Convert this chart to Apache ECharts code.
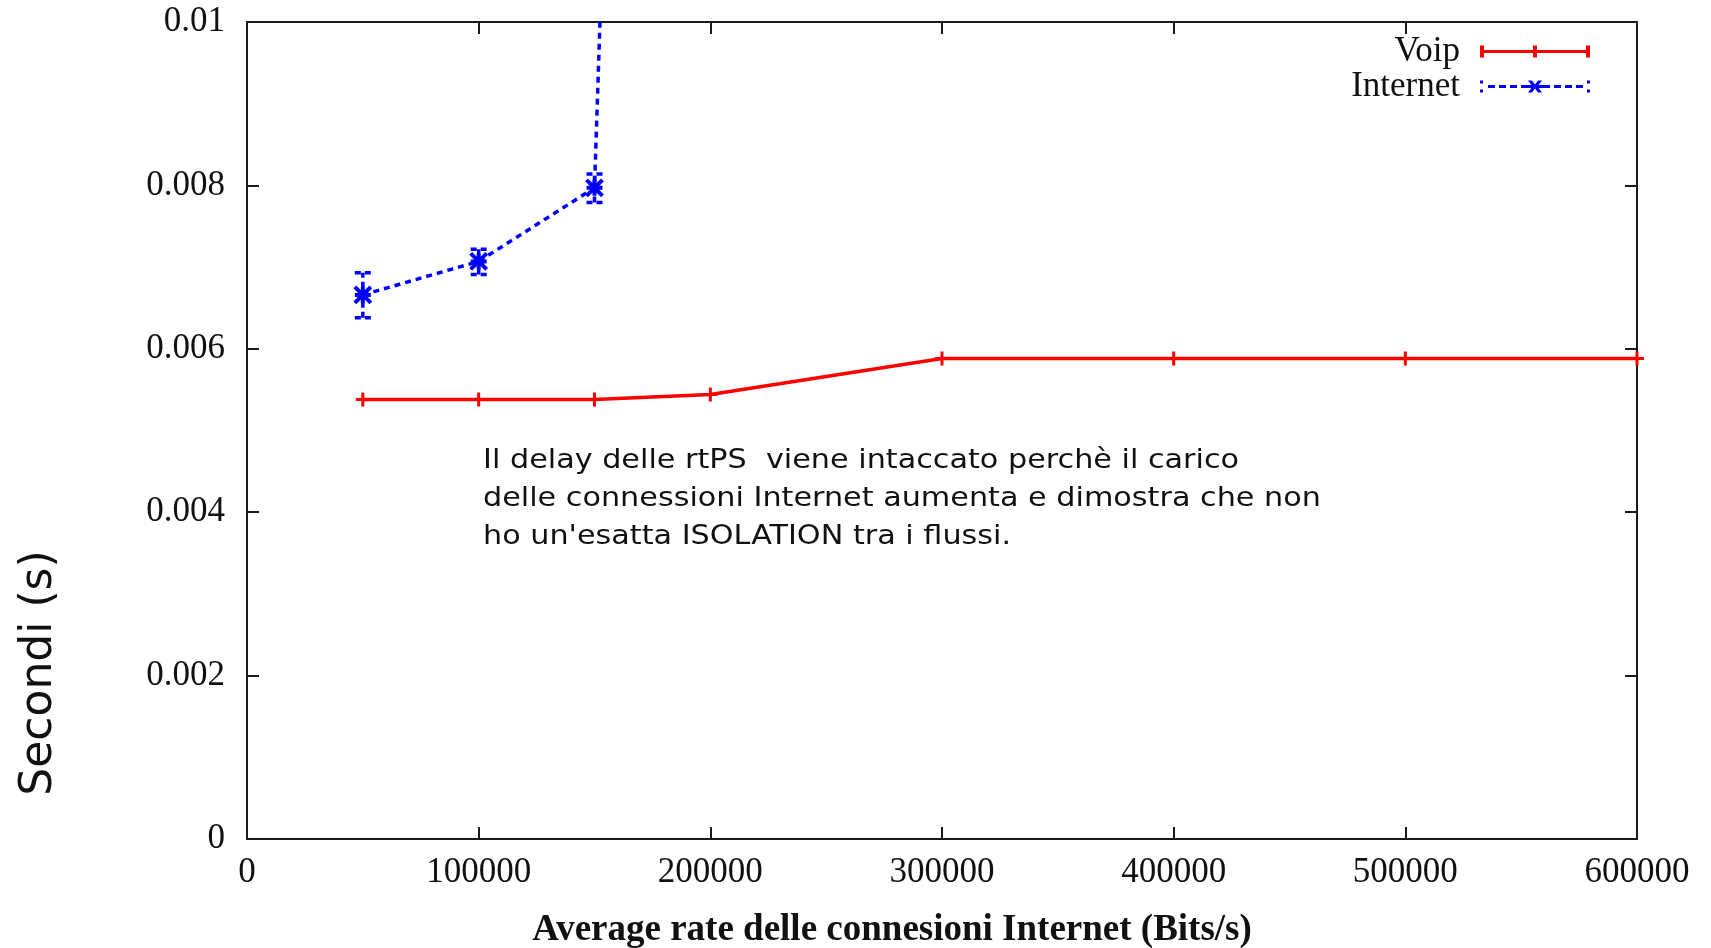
<!DOCTYPE html>
<html><head><meta charset="utf-8">
<script src="https://cdn.jsdelivr.net/npm/echarts@6/dist/echarts.min.js"></script>
<style>html,body{margin:0;padding:0;background:#fff}#c{width:1711px;height:948px}</style>
</head><body><div id="c"></div>
<script>
// ---- data ----
const voipX = [50000, 100000, 150000, 200000, 300000, 400000, 500000, 600000];
const voipY = [0.00538, 0.00538, 0.00538, 0.00544, 0.00588, 0.00588, 0.00588, 0.00588];
const internetX = [50000, 100000, 150000, 200000];
const internetY = [0.00666, 0.00707, 0.00797, 0.0508];
const internetLow = [0.00638, 0.00691, 0.00779, 0.0504];
const internetHigh = [0.00693, 0.00722, 0.00814, 0.0512];
const xTitle = 'Average rate delle connesioni Internet (Bits/s)';
const yTitle = 'Secondi (s)';
const noteLines = [
  "Il delay delle rtPS  viene intaccato perchè il carico",
  "delle connessioni Internet aumenta e dimostra che non",
  "ho un'esatta ISOLATION tra i flussi."
];

const RED = '#ff0000', BLUE = '#0000ff', AX = '#1a1a1a';
const serif = 'Liberation Serif';

const voipData = voipX.map((x, i) => [x, voipY[i]]);
const netData = internetX.map((x, i) => [x, internetY[i]]);
const errData = internetX.map((x, i) => [x, internetLow[i], internetHigh[i]]);

const plusPath = 'path://M0,5 L10,5 M5,0 L5,10';
const starPath = 'path://M0,0 L10,10 M10,0 L0,10 M5,0 L5,10 M0,5 L10,5';

// legend icons (filled shapes, 110x12)
const voipIcon = 'path://M0,0h4v12h-4Z M53,0h4v12h-4Z M106,0h4v12h-4Z M0,4.5h110v3h-110Z';
let netIconParts = ['M0,0h3v3h-3Z', 'M0,9h3v3h-3Z', 'M107,0h3v3h-3Z', 'M107,9h3v3h-3Z'];
for (let x = 8; x < 104; x += 11) {
  if (x > 44 && x < 62) continue;
  netIconParts.push('M' + x + ',4.5h7v3h-7Z');
}
netIconParts.push('M48,0L52,0L55,4L58,0L62,0L57.5,6L62,12L58,12L55,8L52,12L48,12L52.5,6Z');
netIconParts.push('M44,4.5h22v3h-22Z');
const netIcon = 'path://' + netIconParts.join(' ');

const chart = echarts.init(document.getElementById('c'));
const axisCommon = {
  min: 0,
  axisLine: { show: true, onZero: false, lineStyle: { color: AX, width: 2 } },
  axisTick: { show: true, inside: true, length: 12, lineStyle: { color: AX, width: 2 } },
  splitLine: { show: false }
};
const lbl = { fontFamily: serif, fontSize: 35, color: '#111' };
chart.setOption({
  backgroundColor: '#ffffff',
  animation: false,
  grid: { left: 247, right: 74, top: 22, bottom: 109, containLabel: false },
  xAxis: [
    Object.assign({}, axisCommon, {
      type: 'value', position: 'bottom', max: 600000, interval: 100000,
      axisLabel: Object.assign({}, lbl, { margin: 16, formatter: v => String(v) })
    }),
    Object.assign({}, axisCommon, {
      type: 'value', position: 'top', max: 600000, interval: 100000,
      axisLabel: { show: false }
    })
  ],
  yAxis: [
    Object.assign({}, axisCommon, {
      type: 'value', position: 'left', max: 0.01, interval: 0.002,
      axisLabel: Object.assign({}, lbl, { margin: 22 })
    }),
    Object.assign({}, axisCommon, {
      type: 'value', position: 'right', max: 0.01, interval: 0.002,
      axisLabel: { show: false }
    })
  ],
  legend: {
    orient: 'vertical', right: 116, top: 29, align: 'right',
    itemWidth: 110, itemHeight: 12, itemGap: 0,
    itemStyle: { borderWidth: 0 },
    textStyle: { fontFamily: serif, fontSize: 35, color: '#111', lineHeight: 32, padding: [0, 15, 0, 0] },
    data: [{ name: 'Voip', icon: voipIcon }, { name: 'Internet', icon: netIcon }]
  },
  series: [
    {
      name: 'Voip', type: 'line', data: voipData, clip: true,
      symbol: plusPath, symbolSize: 14,
      itemStyle: { color: RED, borderColor: RED, borderWidth: 3 },
      lineStyle: { color: RED, width: 3.5 }
    },
    {
      name: 'Internet', type: 'line', data: netData, clip: true,
      symbol: starPath, symbolSize: 16,
      itemStyle: { color: BLUE, borderColor: BLUE, borderWidth: 4 },
      lineStyle: { color: BLUE, width: 3.5, type: [6, 5] }
    },
    {
      name: 'InternetErr', type: 'custom', data: errData, clip: true,
      renderItem: function (params, api) {
        const x = api.value(0), lo = api.value(1), hi = api.value(2);
        const pLo = api.coord([x, lo]), pHi = api.coord([x, hi]);
        const w = 8;
        const st = { stroke: BLUE, lineWidth: 3.5, lineDash: [6, 4], fill: null };
        return {
          type: 'group', children: [
            { type: 'line', shape: { x1: pLo[0], y1: pLo[1], x2: pHi[0], y2: pHi[1] }, style: st },
            { type: 'line', shape: { x1: pHi[0] - w, y1: pHi[1], x2: pHi[0] + w, y2: pHi[1] }, style: st },
            { type: 'line', shape: { x1: pLo[0] - w, y1: pLo[1], x2: pLo[0] + w, y2: pLo[1] }, style: st }
          ]
        };
      },
      z: 3
    }
  ],
  graphic: [
    {
      type: 'text', x: 892, y: 930,
      style: { text: xTitle, fontFamily: serif, fontWeight: 'bold', fontSize: 37, fill: '#111', align: 'center', verticalAlign: 'middle' }
    },
    {
      type: 'text', x: 40, y: 673, rotation: Math.PI / 2,
      style: { text: yTitle, fontFamily: 'DejaVu Sans', fontSize: 44, fill: '#111', align: 'center', verticalAlign: 'middle' }
    },
    {
      type: 'text', x: 483, y: 442, scaleX: 1.12,
      style: { text: noteLines.join('\n'), fontFamily: 'DejaVu Sans', fontSize: 27, lineHeight: 38, fill: '#111' }
    }
  ]
});
</script></body></html>
